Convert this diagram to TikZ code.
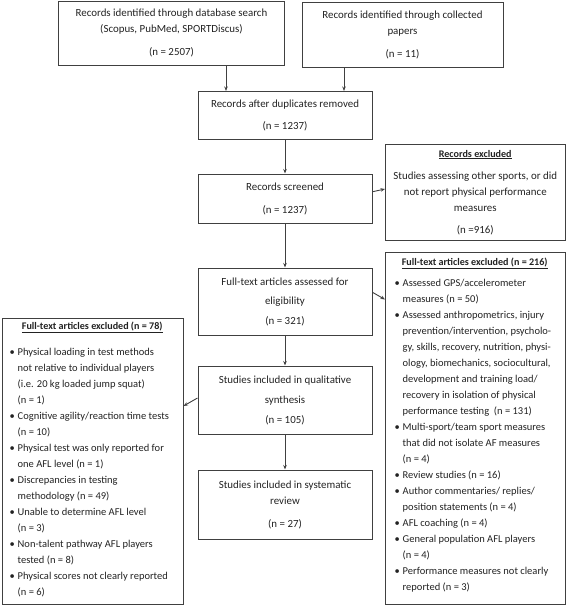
\documentclass[tikz,border=0pt]{standalone}
\usepackage{fontspec}
\setmainfont{Carlito}
\usetikzlibrary{arrows.meta,calc}
\definecolor{ln}{HTML}{404040}
\definecolor{tx}{HTML}{222222}
\newcommand\bul{\makebox[8pt][l]{\textbullet}}
\newcommand\ind{\hspace*{8pt}}
\newcommand\ttl[1]{{\fontsize{10.1}{16}\selectfont\underline{\textbf{#1}}}}
\begin{document}
\begin{tikzpicture}[x=1pt,y=-1pt,
  box/.style={draw=ln,line width=1pt,inner sep=0pt,align=center,text=tx,
    font=\fontsize{10.9}{16}\selectfont},
  txt/.style={inner sep=0pt,align=left,text=tx,font=\fontsize{10.5}{16}\selectfont},
  arr/.style={draw=ln,line width=0.9pt,-{Stealth[length=4.5pt,width=3.5pt]}},
]
\useasboundingbox (0,0) rectangle (567,605);

\node[box,minimum width=226pt,minimum height=64pt] (b1) at (171.5,33)
  {Records identified through database search\\(Scopus, PubMed, SPORTDiscus)\\[7pt](n = 2507)};
\node[box,minimum width=201pt,minimum height=65pt] (b2) at (402.5,34.5)
  {Records identified through collected\\papers\\[7pt](n = 11)};
\node[box,minimum width=174pt,minimum height=48pt] (b3) at (285,115.5)
  {Records after duplicates removed\\[6.5pt](n = 1237)};
\node[box,minimum width=174pt,minimum height=49.5pt] (b4) at (285,198.75)
  {Records screened\\[6.5pt](n = 1237)};
\node[box,minimum width=174pt,minimum height=67pt] (b5) at (285,301.5)
  {Full-text articles assessed for\\[3.5pt]eligibility\\[3.5pt](n = 321)};
\node[box,minimum width=174pt,minimum height=68.5pt] (b6) at (285,400.25)
  {Studies included in qualitative\\[3.5pt]synthesis\\[4pt](n = 105)};
\node[box,minimum width=174pt,minimum height=69pt] (b7) at (285,504.5)
  {Studies included in systematic\\review\\[7pt](n = 27)};
\node[box,minimum width=179.5pt,minimum height=96.5pt] (e1) at (475.25,192.25)
  {\ttl{Records excluded}\\[6pt]Studies assessing other sports, or did\\not report physical performance\\measures\\[6pt](n =916)};

\node[box,minimum width=179.5pt,minimum height=352pt] (e2) at (475.25,428) {};
\node[txt,anchor=west] (e2t) at ([xshift=9.5pt,yshift=3pt]e2.west)
  {\makebox[160pt][c]{\ttl{Full-text articles excluded (n = 216)}}\\[5.5pt]
   \bul Assessed GPS/accelerometer\\
   \ind measures (n = 50)\\
   \bul Assessed anthropometrics, injury\\
   \ind prevention/intervention, psycholo-\\
   \ind gy, skills, recovery, nutrition, physi-\\
   \ind ology, biomechanics, sociocultural,\\
   \ind development and training load/\\
   \ind recovery in isolation of physical\\
   \ind performance testing\ \ (n = 131)\\
   \bul Multi-sport/team sport measures\\
   \ind that did not isolate AF measures\\
   \ind (n = 4)\\
   \bul Review studies (n = 16)\\
   \bul Author commentaries/ replies/\\
   \ind position statements (n = 4)\\
   \bul AFL coaching (n = 4)\\
   \bul General population AFL players\\
   \ind (n = 4)\\
   \bul Performance measures not clearly\\
   \ind reported (n = 3)};

\node[box,minimum width=181pt,minimum height=286pt] (e3) at (92.5,461) {};
\node[txt,anchor=west] (e3t) at ([xshift=8pt,yshift=1.3pt]e3.west)
  {\makebox[165pt][c]{\ttl{Full-text articles excluded (n = 78)}}\\[10pt]
   \bul Physical loading in test methods\\
   \ind not relative to individual players\\
   \ind (i.e. 20 kg loaded jump squat)\\
   \ind (n = 1)\\
   \bul Cognitive agility/reaction time tests\\
   \ind (n = 10)\\
   \bul Physical test was only reported for\\
   \ind one AFL level (n = 1)\\
   \bul Discrepancies in testing\\
   \ind methodology (n = 49)\\
   \bul Unable to determine AFL level\\
   \ind (n = 3)\\
   \bul Non-talent pathway AFL players\\
   \ind tested (n = 8)\\
   \bul Physical scores not clearly reported\\
   \ind (n = 6)};

\draw[arr] ([xshift=54.5pt]b1.south) -- ([xshift=54.5pt]b1.south |- b3.north);
\draw[arr] ([xshift=-58.5pt]b2.south) -- ([xshift=-58.5pt]b2.south |- b3.north);
\draw[arr] (b3.south) -- (b4.north);
\draw[arr] (b4.south) -- (b5.north);
\draw[arr] (b5.south) -- (b6.north);
\draw[arr] (b6.south) -- (b7.north);
\draw[arr] ([yshift=7pt]b4.east) -- ([yshift=3.25pt]e1.west);
\draw[arr] ([yshift=9.2pt]b5.east) -- ([yshift=128.5pt]e2.west);
\draw[arr] ([yshift=2.25pt]b6.west) -- ([yshift=55pt]e3.east);
\end{tikzpicture}
\end{document}
